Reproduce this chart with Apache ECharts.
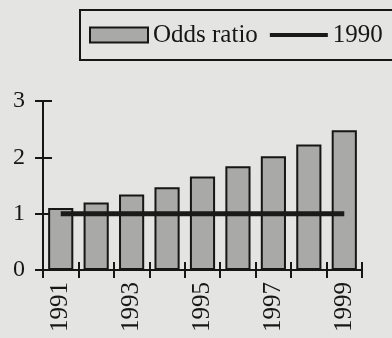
<!DOCTYPE html>
<html>
<head>
<meta charset="utf-8">
<script src="https://cdn.jsdelivr.net/npm/echarts@6/dist/echarts.min.js"></script>
<style>
html,body{margin:0;padding:0;background:#e4e4e2;}
#chart{width:392px;height:338px;}
</style>
</head>
<body>
<div id="chart"></div>
<script>
var years=["1991","1992","1993","1994","1995","1996","1997","1998","1999"];
var oddsRatio=[1.10,1.20,1.34,1.47,1.66,1.84,2.02,2.23,2.48];
var base1990=[1,1,1,1,1,1,1,1,1];
var yTicks=[0,1,2,3];

var font="'Liberation Serif', 'DejaVu Serif', serif";
var ink="#161616";
// thin bar in the middle of the icon box, for the line entry
var lineIcon="path://M0,0L0.01,0L0,0.01Z M0,5L71,5L71,10L0,10Z M0,15L0.01,15L0,14.99Z";
var myChart=echarts.init(document.getElementById("chart"));

var option={
	backgroundColor:"#e4e4e2",
	animation:false,
	textStyle:{fontFamily:font},
	legend:{
		left:80,
		top:10,
		width:420,
		orient:"horizontal",
		padding:[12,50,12,9],
		borderColor:ink,
		borderWidth:2,
		itemWidth:58,
		itemHeight:15,
		itemGap:12,
		textStyle:{fontFamily:font,fontSize:25,color:ink,lineHeight:26},
		data:[
			{name:"Odds ratio",icon:"rect"},
			{name:"1990",icon:lineIcon,itemStyle:{color:"#1a1a1a",borderWidth:0}}
		]
	},
	grid:{left:43,right:30,top:101,bottom:68},
	xAxis:[{
		type:"category",
		data:years,
		boundaryGap:true,
		axisLine:{lineStyle:{color:ink,width:2}},
		axisTick:{show:true,interval:0,length:8,lineStyle:{color:ink,width:2}},
		axisLabel:{interval:1,rotate:90,margin:12,fontSize:25,color:ink,fontFamily:font}
	},{
		type:"category",
		data:years,
		position:"bottom",
		boundaryGap:true,
		axisLine:{show:false},
		axisTick:{show:true,inside:true,interval:0,length:8,lineStyle:{color:ink,width:2}},
		axisLabel:{show:false}
	}],
	yAxis:[{
		type:"value",
		min:yTicks[0],
		max:yTicks[yTicks.length-1],
		interval:1,
		splitLine:{show:false},
		axisLine:{show:true,lineStyle:{color:ink,width:2}},
		axisTick:{show:true,length:8,lineStyle:{color:ink,width:2}},
		axisLabel:{margin:18,fontSize:24,color:ink,fontFamily:font}
	},{
		type:"value",
		position:"left",
		min:yTicks[0],
		max:yTicks[yTicks.length-1],
		interval:1,
		splitLine:{show:false},
		axisLine:{show:false},
		axisTick:{show:true,inside:true,length:9,lineStyle:{color:ink,width:2}},
		axisLabel:{show:false}
	}],
	series:[{
		name:"Odds ratio",
		type:"bar",
		data:oddsRatio,
		barCategoryGap:"29%",
		itemStyle:{color:"#a9a9a7",borderColor:ink,borderWidth:2}
	},{
		name:"1990",
		type:"line",
		data:base1990,
		symbol:"none",
		z:5,
		lineStyle:{color:"#1a1a1a",width:5},
		itemStyle:{color:"#1a1a1a"}
	}]
};
myChart.setOption(option);
</script>
</body>
</html>
